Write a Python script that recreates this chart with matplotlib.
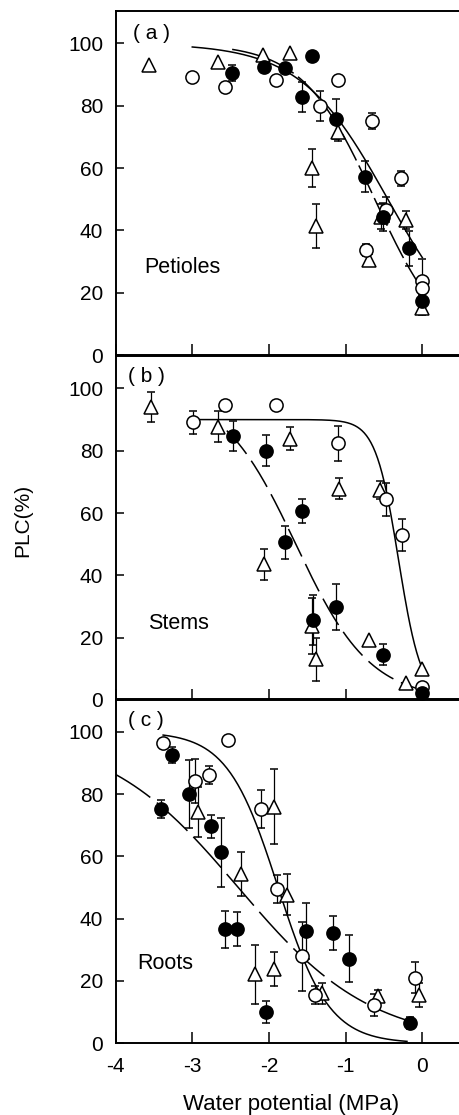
import numpy as np
import matplotlib
matplotlib.use('Agg')
import matplotlib.pyplot as plt

plt.rcParams['font.family'] = ['Liberation Sans', 'DejaVu Sans']
plt.rcParams['font.size'] = 15
plt.rcParams['axes.unicode_minus'] = False
plt.rcParams['lines.scale_dashes'] = False

# ---- data ----
# (a) petioles
pet_tri_x = [-3.56, -2.66, -2.08, -1.73, -1.44, -1.38, -1.10, -0.54, -0.70, -0.21, -0.01]
pet_tri_y = [93.0, 94.0, 96.3, 96.8, 60.0, 41.5, 71.7, 44.4, 30.5, 43.3, 15.0]
pet_tri_e = [0, 0, 0, 0, 6, 7, 3, 4, 2, 3, 2]

pet_open_x = [-3.0, -2.57, -1.91, -1.33, -1.10, -0.66, -0.47, -0.73, -0.28, 0.0, 0.0]
pet_open_y = [89.1, 85.9, 88.2, 79.9, 88.4, 75.2, 46.7, 33.7, 56.7, 23.7, 21.4]
pet_open_e = [0, 0, 0, 4.8, 0, 2.5, 4, 2, 2.5, 7, 0]

pet_fill_x = [-2.48, -2.06, -1.79, -1.44, -1.57, -1.13, -0.75, -0.51, -0.18, -0.01]
pet_fill_y = [90.6, 92.5, 92.0, 96.0, 82.9, 75.7, 57.2, 44.4, 34.2, 17.3]
pet_fill_e = [2.5, 0, 0, 0, 4.8, 6.5, 5, 4.5, 5.5, 2]

# (b) stems
stm_tri_x = [-3.54, -2.66, -2.07, -1.73, -1.44, -1.38, -1.08, -0.55, -0.69, -0.21, 0.0]
stm_tri_y = [94.1, 87.7, 43.5, 83.8, 23.7, 13.0, 67.8, 67.4, 19.4, 5.5, 10.1]
stm_tri_e = [4.8, 5, 5, 3.7, 9, 7, 3.4, 3, 0, 0, 0]

stm_open_x = [-2.99, -2.57, -1.91, -1.10, -0.47, -0.27, 0.0]
stm_open_y = [89.1, 94.8, 94.8, 82.4, 64.4, 53.0, 4.3]
stm_open_e = [3.8, 0, 0, 5.6, 5.2, 5.2, 0]

stm_fill_x = [-2.47, -2.04, -1.57, -1.79, -1.43, -1.12, -0.51, 0.0]
stm_fill_y = [84.8, 80.0, 60.6, 50.7, 25.6, 29.9, 14.6, 2.3]
stm_fill_e = [4.8, 5, 3.9, 5.3, 8, 7.3, 3.5, 0]

# (c) roots
rt_tri_x = [-2.93, -2.37, -2.18, -1.93, -1.94, -1.76, -1.31, -0.58, -0.04]
rt_tri_y = [74.3, 54.4, 22.2, 23.8, 75.9, 47.7, 16.0, 15.2, 15.5]
rt_tri_e = [8, 7, 9.5, 5.5, 12, 6.5, 3.3, 2, 3.7]

rt_open_x = [-3.38, -2.53, -2.97, -2.78, -2.10, -1.89, -1.57, -1.40, -0.63, -0.10]
rt_open_y = [96.5, 97.2, 84.2, 86.1, 75.2, 49.4, 27.9, 15.5, 12.3, 21.1]
rt_open_e = [0, 0, 7, 3, 6, 4.5, 11, 3, 3.5, 5]

rt_fill_x = [-3.26, -3.41, -3.04, -2.76, -2.63, -2.57, -2.42, -2.04, -1.52, -1.17, -0.95, -0.16]
rt_fill_y = [92.5, 75.2, 80.0, 69.6, 61.3, 36.6, 36.8, 10.1, 36.0, 35.5, 27.2, 6.6]
rt_fill_e = [2.5, 3, 11, 3.8, 11, 6, 5.5, 3.5, 9, 5.5, 7.5, 2]

# fitted curves: (max PLC, slope, midpoint, x from, x to)
pet_solid = (100, 1.75, -0.45, -3.0, 0.0)
pet_dash = (100, 2.12, -0.62, -2.48, -0.05)
stm_solid = (90, 6.7, -0.31, -2.9, 0.0)
stm_dash = (100, 2.06, -1.65, -2.55, 0.0)
rt_solid = (100, 3.02, -1.88, -3.38, -0.2)
rt_dash = (100, 1.15, -2.4, -4.0, -0.03)

yticks = [0, 20, 40, 60, 80, 100]
xticks = [-4, -3, -2, -1, 0]


def sigmoid_curve(params):
    top, slope, mid, x0, x1 = params
    x = np.linspace(x0, x1, 200)
    return x, top / (1 + np.exp(slope * (x - mid)))


def draw_points(ax, x, y, e, marker, face, size):
    ax.errorbar(x, y, yerr=e, fmt=marker, ms=size, mfc=face, mec='black', mew=1.1,
                ecolor='black', elinewidth=0.9, capsize=3, capthick=0.9, zorder=3)


fig = plt.figure(figsize=(4.59, 11.15), dpi=100)
left = 115.6 / 459
width = 1 - left
bottoms = [0.6816, 0.3722, 0.0643]
h = 0.3085

panels = [
    ('( a )', 'Petioles', (pet_tri_x, pet_tri_y, pet_tri_e), (pet_open_x, pet_open_y, pet_open_e),
     (pet_fill_x, pet_fill_y, pet_fill_e), pet_solid, pet_dash, (22, 4), (-3.77, 103.3), (-3.62, 28.2)),
    ('( b )', 'Stems', (stm_tri_x, stm_tri_y, stm_tri_e), (stm_open_x, stm_open_y, stm_open_e),
     (stm_fill_x, stm_fill_y, stm_fill_e), stm_solid, stm_dash, (22, 6), (-3.84, 103.8), (-3.58, 24.7)),
    ('( c )', 'Roots', (rt_tri_x, rt_tri_y, rt_tri_e), (rt_open_x, rt_open_y, rt_open_e),
     (rt_fill_x, rt_fill_y, rt_fill_e), rt_solid, rt_dash, (30, 6), (-3.84, 103.7), (-3.72, 25.7)),
]

for i, (tag, name, tri, opn, fil, solid, dash, dpat, tag_pos, name_pos) in enumerate(panels):
    ax = fig.add_axes([left, bottoms[i], width, h])
    ax.patch.set_alpha(0)

    xs, ys = sigmoid_curve(solid)
    ax.plot(xs, ys, color='black', lw=1.1, zorder=2)
    xd, yd = sigmoid_curve(dash)
    ax.plot(xd, yd, color='black', lw=1.1, dashes=dpat, zorder=2)

    draw_points(ax, *tri, '^', 'white', 10.5)
    draw_points(ax, *opn, 'o', 'white', 9.5)
    draw_points(ax, *fil, 'o', 'black', 9.5)

    ax.text(tag_pos[0], tag_pos[1], tag, ha='left', va='center', fontsize=15)
    ax.text(name_pos[0], name_pos[1], name, ha='left', va='center', fontsize=15.5)

    ax.set_xlim(-4, (459 - 422.3) / 76.7)
    ax.set_ylim(0, 110.4)
    ax.set_yticks(yticks)
    ax.set_xticks(xticks)
    ax.tick_params(axis='y', direction='in', length=6, width=1.1, pad=9, labelsize=15)
    ax.tick_params(axis='x', direction='in', length=8, width=1.1, pad=10, labelsize=15)
    ax.spines['right'].set_visible(False)
    for s in ['left', 'bottom', 'top']:
        ax.spines[s].set_linewidth(1.4)
    if i < 2:
        ax.tick_params(axis='x', labelbottom=False)

fig.text(23 / 459, 0.533, 'PLC(%)', rotation=90, ha='center', va='center', fontsize=15)
fig.text(291 / 459, 0.0095, 'Water potential (MPa)', ha='center', va='center', fontsize=16)

fig.savefig('out.png', dpi=100)
